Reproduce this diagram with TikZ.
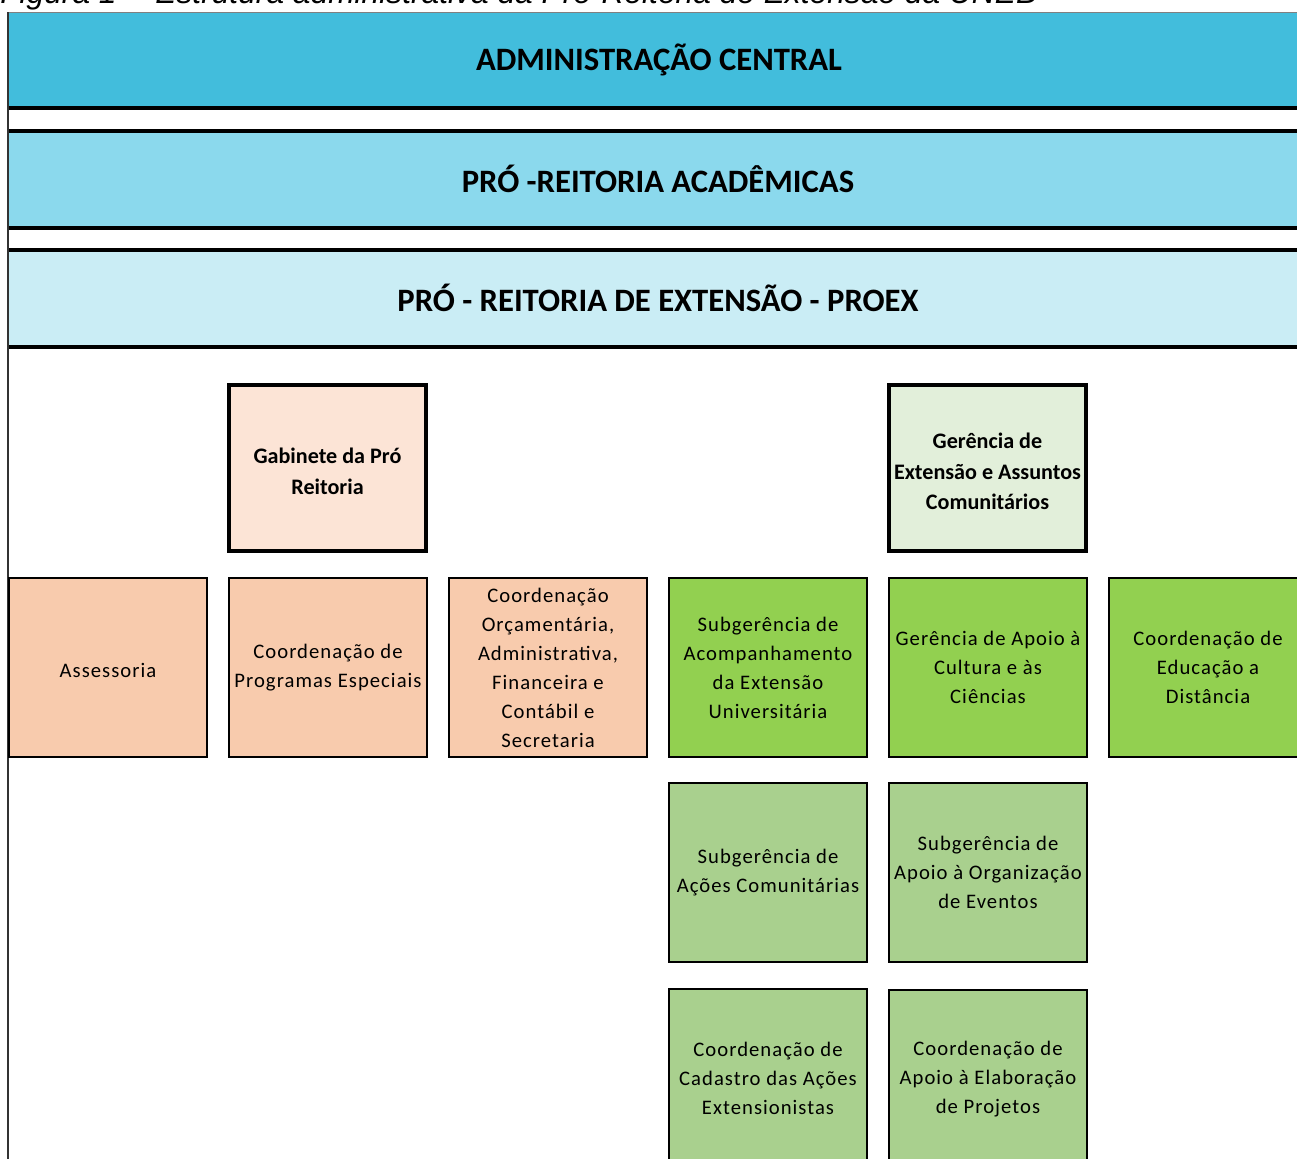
\documentclass[tikz,border=0pt]{standalone}
\usepackage{fontspec}
\setmainfont{Carlito}
\newfontfamily\capfont{Liberation Sans}
\newfontfamily\boxfont[LetterSpace=5]{Carlito}
\definecolor{bandA}{HTML}{42BDDC}
\definecolor{bandB}{HTML}{8BD9ED}
\definecolor{bandC}{HTML}{CAEDF5}
\definecolor{orgLight}{HTML}{FCE4D6}
\definecolor{orgMid}{HTML}{F8CBAD}
\definecolor{grnLight}{HTML}{E2EFDA}
\definecolor{grnBright}{HTML}{92D050}
\definecolor{grnMid}{HTML}{A9D08E}
\definecolor{frameGray}{HTML}{333333}
\tikzset{
  band/.style={inner sep=0pt, minimum width=1310*0.75pt},
  bandline/.style={line width=3pt, black},
  bandtitle/.style={inner sep=0pt, font=\bfseries\fontsize{24.5}{24.5}\selectfont},
  headbox/.style={draw=black, line width=3pt, inner sep=0pt,
    minimum width=147.75pt, minimum height=124.5pt},
  headtext/.style={align=center, inner sep=0pt,
    font=\bfseries\fontsize{16.6}{23}\selectfont},
  unitbox/.style={draw=black, line width=1.5pt, inner sep=0pt,
    minimum width=148.5pt, minimum height=134.25pt, align=center,
    font=\boxfont\fontsize{15.5}{21.75}\selectfont},
  unittext/.style={align=center, inner sep=0pt,
    font=\boxfont\fontsize{15.5}{21.75}\selectfont},
}
\begin{document}
\begin{tikzpicture}[x=0.75pt,y=-0.75pt]
\path[use as bounding box] (0,0) rectangle (1297,1158);
\clip (0,0) rectangle (1297,1158);

% caption (cut off at the top, as in the source)
\node[anchor=base west, inner sep=0pt, font=\capfont\itshape\fontsize{23.8}{23.8}\selectfont] (cap) at (0,3)
  {Figura 1 -- Estrutura administrativa da Pró-Reitoria de Extensão da UNEB};

% bands
\node[band, fill=bandA, minimum height=95*0.75pt, anchor=north west] (b1) at (8,12) {};
\node[band, fill=bandB, minimum height=96*0.75pt, anchor=north west] (b2) at (8,131) {};
\node[band, fill=bandC, minimum height=96*0.75pt, anchor=north west] (b3) at (8,250) {};
\draw[line width=0.75pt, gray] (b1.north west) -- (b1.north east);
\draw[bandline] (b1.south west) -- (b1.south east);
\draw[bandline] (b2.north west) -- (b2.north east);
\draw[bandline] (b2.south west) -- (b2.south east);
\draw[bandline] (b3.north west) -- (b3.north east);
\draw[bandline] (b3.south west) -- (b3.south east);
\node[bandtitle] (t1) at (659,59.5) {ADMINISTRAÇÃO CENTRAL};
\node[bandtitle] (t2) at (658,178.5) {PRÓ -REITORIA ACADÊMICAS};
\node[bandtitle] (t3) at (658,297.5) {PRÓ - REITORIA DE EXTENSÃO - PROEX};

% frame left edge
\coordinate (ftop) at (8,12);
\coordinate (fbot) at (8,1160);
\draw[line width=1.5pt, frameGray] (ftop) -- (fbot);

% head boxes
\node[headbox, fill=orgLight] (gab) at (327.5,468) {};
\node[headtext] (gabt) at (327.5,471) {Gabinete da Pró\\Reitoria};
\node[headbox, fill=grnLight] (gea) at (987.5,468) {};
\node[headtext] (geat) at (987.5,471.5) {Gerência de\\Extensão e Assuntos\\Comunitários};

% row 2
\node[unitbox, fill=orgMid] (ass) at (108,667.5) {};
\node[unittext] (asst) at (108,670) {Assessoria};
\node[unitbox, fill=orgMid] (cpe) at (328,667.5) {Coordenação de\\Programas Especiais};
\node[unitbox, fill=orgMid] (coa) at (548,667.5) {Coordenação\\Orçamentária,\\Administrativa,\\Financeira e\\Contábil e\\Secretaria};
\node[unitbox, fill=grnBright] (sae) at (768,667.5) {Subgerência de\\Acompanhamento\\da Extensão\\Universitária};
\node[unitbox, fill=grnBright] (gac) at (988,667.5) {Gerência de Apoio à\\Cultura e às\\Ciências};
\node[unitbox, fill=grnBright] (ced) at (1208,667.5) {Coordenação de\\Educação a\\Distância};

% row 3
\node[unitbox, fill=grnMid] (sac) at (768,872.5) {Subgerência de\\Ações Comunitárias};
\node[unitbox, fill=grnMid] (sao) at (988,872.5) {Subgerência de\\Apoio à Organização\\de Eventos};

% row 4
\node[unitbox, fill=grnMid] (cca) at (768,1078) {Coordenação de\\Cadastro das Ações\\Extensionistas};
\node[unitbox, fill=grnMid] (cap2) at (988,1079.5) {Coordenação de\\Apoio à Elaboração\\de Projetos};
\end{tikzpicture}
\end{document}
